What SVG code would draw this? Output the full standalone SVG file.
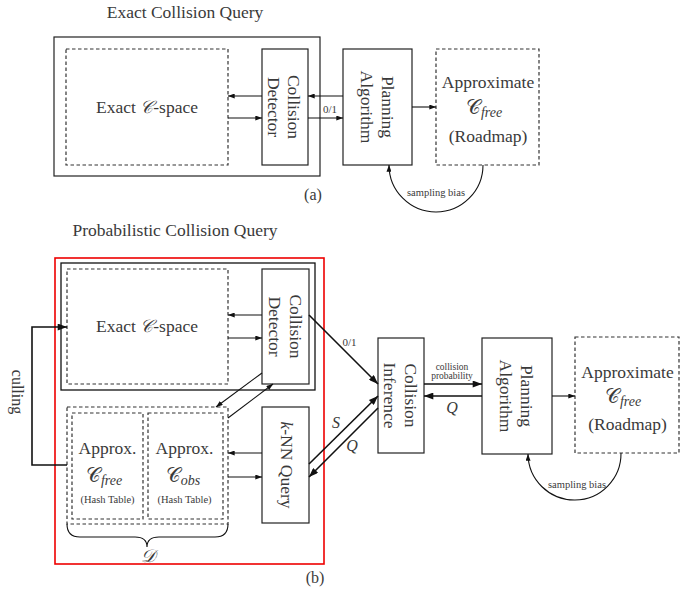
<svg xmlns="http://www.w3.org/2000/svg" width="699" height="591" viewBox="0 0 699 591">
<defs>
<marker id="ah" viewBox="0 0 8 6" refX="8" refY="3" markerWidth="7" markerHeight="5" orient="auto" markerUnits="userSpaceOnUse"><path d="M0,0 L8,3 L0,6 z" fill="#111"/></marker>
<marker id="ahb" viewBox="0 0 8 6" refX="8" refY="3" markerWidth="11" markerHeight="7" orient="auto" markerUnits="userSpaceOnUse"><path d="M0,0 L8,3 L0,6 z" fill="#111"/></marker>
</defs>
<style>
text{font-family:"Liberation Serif","DejaVu Serif",serif;fill:#3a3a3a}
.t{font-size:17.5px;text-anchor:middle}
.s{font-size:10.5px;text-anchor:middle}
.xs{font-size:9.5px;text-anchor:middle}
.m{font-size:17.5px;text-anchor:middle;dominant-baseline:central}
.it{font-style:italic}
.box{fill:#fff;stroke:#222;stroke-width:1.2}
.dash{fill:none;stroke:#333;stroke-width:1.2;stroke-dasharray:3.5,2.5}
.ln{fill:none;stroke:#111;stroke-width:1.1}
.lb{fill:none;stroke:#111;stroke-width:1.6}
</style>

<text id="title-a" class="t" x="185" y="18">Exact Collision Query</text>
<text id="title-b" class="t" x="175" y="236">Probabilistic Collision Query</text>
<text class="t" x="313" y="200" style="font-size:16px">(a)</text>
<text class="t" x="315" y="583" style="font-size:16px">(b)</text>

<!-- (a) -->
<g id="a-outer"><rect x="54" y="37" width="266" height="139" fill="none" stroke="#222" stroke-width="1.2"/></g>
<g id="a-cspace"><rect class="dash" x="66" y="49" width="162" height="116"/><text class="t" x="147" y="113">Exact <tspan class="it">𝒞</tspan>-space</text></g>
<g id="a-detector"><rect class="box" x="262" y="49" width="46" height="116"/>
<g transform="translate(285,107) rotate(90)"><text class="m" x="0" y="-9">Collision</text><text class="m" x="0" y="11">Detector</text></g></g>
<g id="a-planning"><rect class="box" x="343" y="49" width="69" height="116"/>
<g transform="translate(377.5,107) rotate(90)"><text class="m" x="0" y="-10.5">Planning</text><text class="m" x="0" y="10.5">Algorithm</text></g></g>
<g id="a-approx"><rect class="dash" x="436" y="49" width="103" height="116"/>
<text class="t" x="488" y="88">Approximate</text>
<text class="t" x="484" y="114" style="font-size:20px">𝒞<tspan class="it" style="font-size:14px" dy="3">free</tspan></text>
<text class="t" x="488" y="142">(Roadmap)</text></g>

<g id="a-connectors">
<line class="ln" x1="262" y1="96" x2="228" y2="96" marker-end="url(#ah)"/>
<line class="ln" x1="228" y1="118" x2="262" y2="118" marker-end="url(#ah)"/>
<line class="ln" x1="343" y1="96" x2="308" y2="96" marker-end="url(#ah)"/>
<line class="ln" x1="308" y1="118" x2="343" y2="118" marker-end="url(#ah)"/>
<line class="ln" x1="412" y1="107" x2="436" y2="107" marker-end="url(#ah)"/>
<path class="ln" d="M483,165 A47,47 0 0 1 389,165" marker-end="url(#ah)"/>
</g>
<text class="s" x="330" y="113" style="font-size:11px">0/1</text>
<text class="s" x="436" y="196">sampling bias</text>

<!-- (b) -->
<rect x="55" y="258" width="269" height="306" fill="none" stroke="#e00" stroke-width="1.6"/>
<g id="b-inner"><rect x="61" y="263" width="254" height="127" fill="none" stroke="#111" stroke-width="1.3"/></g>
<g id="b-cspace"><rect class="dash" x="67" y="269" width="161" height="115"/><text class="t" x="147" y="332">Exact <tspan class="it">𝒞</tspan>-space</text></g>
<g id="b-detector"><rect class="box" x="262" y="269" width="47" height="115"/>
<g transform="translate(285.5,326.5) rotate(90)"><text class="m" x="0" y="-10">Collision</text><text class="m" x="0" y="11">Detector</text></g></g>
<g id="b-D"><rect class="dash" x="67" y="407" width="161" height="117"/>
<path fill="none" stroke="#111" stroke-width="1.1" d="M67,524 Q67,537 80,537 L135,537 Q147,537 147,547 Q147,537 159,537 L215,537 Q228,537 228,524"/>
<text class="t it" x="148" y="562" style="font-size:18px">𝒟</text></g>
<g id="b-cfree"><rect class="dash" x="72" y="413" width="71" height="106"/>
<text class="t" x="107.5" y="454">Approx.</text>
<text class="t" x="104" y="482" style="font-size:20px">𝒞<tspan class="it" style="font-size:14px" dy="3">free</tspan></text>
<text class="s" x="107.5" y="503">(Hash Table)</text></g>
<g id="b-cobs"><rect class="dash" x="148" y="413" width="75" height="106"/>
<text class="t" x="184.5" y="454">Approx.</text>
<text class="t" x="183" y="482" style="font-size:20px">𝒞<tspan class="it" style="font-size:14px" dy="3">obs</tspan></text>
<text class="s" x="184.5" y="503">(Hash Table)</text></g>
<g id="b-knn"><rect class="box" x="262" y="407" width="47" height="116"/>
<g transform="translate(285.5,465) rotate(90)"><text class="m" x="0" y="-1.5"><tspan class="it">k</tspan>-NN Query</text></g></g>
<g id="b-inference"><rect class="box" x="378" y="338" width="46" height="115"/>
<g transform="translate(401,395.5) rotate(90)"><text class="m" x="0" y="-10">Collision</text><text class="m" x="0" y="11">Inference</text></g></g>
<g id="b-planning"><rect class="box" x="482" y="338" width="70" height="116"/>
<g transform="translate(517,396) rotate(90)"><text class="m" x="0" y="-10">Planning</text><text class="m" x="0" y="11">Algorithm</text></g></g>
<g id="b-approx"><rect class="dash" x="575" y="337" width="104" height="116"/>
<text class="t" x="627.5" y="378">Approximate</text>
<text class="t" x="623" y="403" style="font-size:20px">𝒞<tspan class="it" style="font-size:14px" dy="3">free</tspan></text>
<text class="t" x="627.5" y="430">(Roadmap)</text></g>

<g id="b-connectors">
<line class="ln" x1="262" y1="315" x2="228" y2="315" marker-end="url(#ah)"/>
<line class="ln" x1="228" y1="338" x2="262" y2="338" marker-end="url(#ah)"/>
<line class="ln" x1="262" y1="453" x2="228" y2="453" marker-end="url(#ah)"/>
<line class="ln" x1="228" y1="477" x2="262" y2="477" marker-end="url(#ah)"/>
<line class="ln" x1="262" y1="373" x2="216" y2="407" marker-end="url(#ah)"/>
<line class="ln" x1="228" y1="418" x2="273" y2="384" marker-end="url(#ah)"/>
<path class="lb" d="M67,465 L32,465 L32,327 L67,327" marker-end="url(#ahb)"/>
<line class="lb" x1="309" y1="315" x2="378" y2="384" marker-end="url(#ahb)"/>
<line class="lb" x1="309" y1="464" x2="378" y2="396" marker-end="url(#ahb)"/>
<line class="lb" x1="378" y1="408" x2="309" y2="477" marker-end="url(#ahb)"/>
<line class="lb" x1="424" y1="384" x2="482" y2="384" marker-end="url(#ahb)"/>
<line class="lb" x1="482" y1="396" x2="424" y2="396" marker-end="url(#ahb)"/>
<line class="ln" x1="552" y1="396" x2="575" y2="396" marker-end="url(#ah)"/>
<path class="ln" d="M621,453 A46.5,46.5 0 0 1 528,454" marker-end="url(#ah)"/>
</g>
<g transform="translate(17,392) rotate(90)"><text class="m" x="0" y="0" style="font-size:16px">culling</text></g>
<text class="s" x="349.5" y="346" style="font-size:11px">0/1</text>
<text class="t it" x="336" y="428" style="font-size:16px">S</text>
<text class="t it" x="352" y="451" style="font-size:16px">Q</text>
<text class="xs" x="452" y="370">collision</text>
<text class="xs" x="452" y="379">probability</text>
<text class="t it" x="452" y="413" style="font-size:16px">Q</text>
<text class="s" x="577" y="488">sampling bias</text>
</svg>
